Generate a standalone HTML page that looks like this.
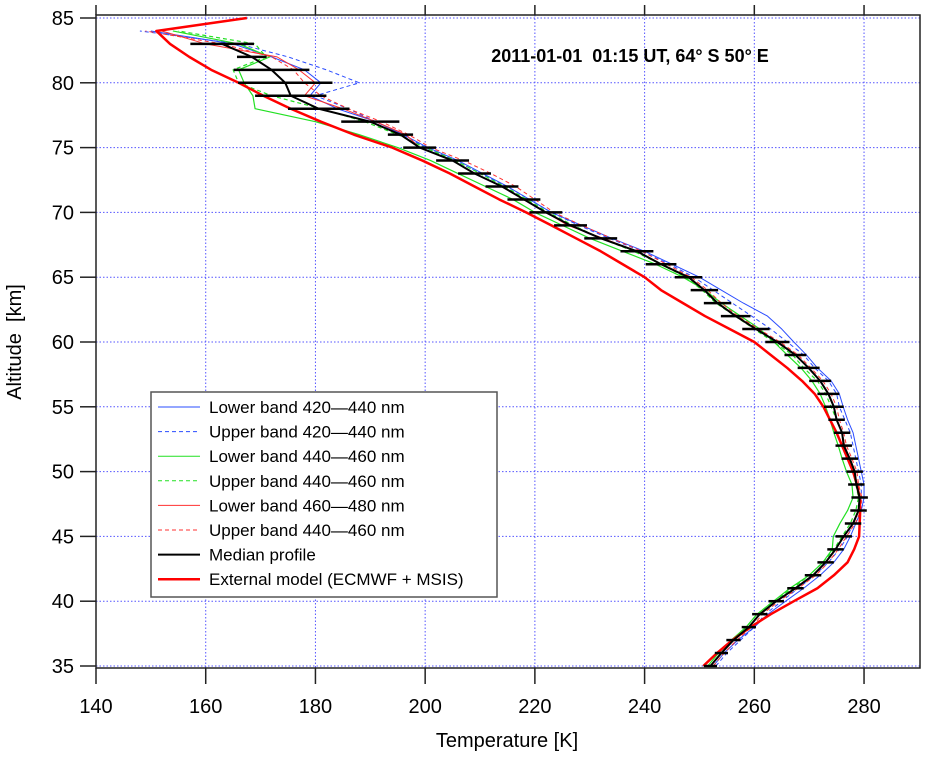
<!DOCTYPE html>
<html><head><meta charset="utf-8"><style>
body{margin:0;background:#fff;}
svg text{font-family:"Liberation Sans",sans-serif;}
</style></head><body>
<svg id="chart" width="936" height="752" xmlns="http://www.w3.org/2000/svg">
<g id="grid"></g>
<g id="series"></g>
<rect x="96" y="15" width="824" height="653" fill="none" stroke="#222" stroke-width="1.5"/>
<g id="axes"></g>
<text x="507" y="747" font-size="20" text-anchor="middle">Temperature [K]</text>
<text transform="translate(21,342) rotate(-90)" font-size="20" text-anchor="middle">Altitude&#160; [km]</text>
<text x="630" y="62" font-size="18" font-weight="bold" text-anchor="middle">2011-01-01&#160; 01:15 UT, 64° S 50° E</text>
<g>
<rect x="151" y="392" width="346" height="205" fill="#fff" stroke="#555" stroke-width="1.5"/>
<g id="legend-items"></g>
</g>
</svg>
<script>
const xTicks=[140,160,180,200,220,240,260,280];
const yTicks=[35,40,45,50,55,60,65,70,75,80,85];
const altMedian=[35,36,37,38,39,40,41,42,43,44,45,46,47,48,49,50,51,52,53,54,55,56,57,58,59,60,61,62,63,64,65,66,67,68,69,70,71,72,73,74,75,76,77,78,79,80,81,82,83];
const tMedian=[252,254,256.2,259,261,264,267.5,270.7,273,274.8,276.3,278,279,279.2,278.6,278.3,277.4,276.3,276,275,274.5,273.5,272,269.9,267.5,264.2,260.3,256.6,253.3,250.9,248,243,238.6,232,226.5,222,218,214,209,205,199,195.5,190,180.6,175.5,174.5,172,168.4,163];
const errMedian=[1.2,1.2,1.3,1.3,1.4,1.4,1.5,1.5,1.5,1.5,1.5,1.5,1.5,1.5,1.5,1.5,1.5,1.5,1.5,1.5,1.8,2,2,2,2,2.2,2.5,2.7,2.5,2.5,2.5,2.8,3,3,3,3,3,3,3,3,3,2.3,5.3,5.6,6.5,8.6,6.9,2.7,5.8];
const altBands=[35,36,37,38,39,40,41,42,43,44,45,46,47,48,49,50,51,52,53,54,55,56,57,58,59,60,61,62,63,64,65,66,67,68,69,70,71,72,73,74,75,76,77,78,79,80,81,82,83,84];
const tBlueLow=[252.5,254.5,257,260,262.5,265.7,269,272,274.5,276.3,277.5,278.5,279.5,280,280,279.5,279,278.5,278,277,276.2,275.5,274,271.5,269.5,267.2,265,262.4,258,254,250,245,240,234,228.5,223,219,215,210.5,206,200.5,196,191,184,179,181,178,172,165,150];
const tBlueUp=[253,255,257.5,260,262,265,268,271,273.5,275.5,277,278,279,279.5,279.5,279,278.5,278,277.5,276.5,275.5,275,273.5,271,269,266,263,259.5,256,252.5,249,244.5,239.5,233.5,228,223,219,215,210,205.5,200,196,191,186,180,188,182,175,166,148];
const tGreenLow=[251.5,253.5,255.8,258.5,260.5,263.5,266.5,270,272.5,274.2,274.4,275.6,277,278,277.8,276.8,276,275.3,274.5,273.8,273,272,270.5,268.5,266,263.6,261,257.5,254,251,247,242,236,230,225,220,216,211,206,201,195,188,180,169,168.6,167,166,171.7,166,154];
const tGreenUp=[252,254,256,258.5,260.5,263.5,267,270,272.5,274.5,276,277.5,278.5,279,278.5,278,277,276.5,276,275,274,273,271.5,269,267,263.5,260,256.5,253,250.5,247.5,243,238,232,227,222.5,218.5,214.5,210,205.5,200,195,189,181,172,166,165,171,169,155];
const tRedLow=[252,254,256.2,259,261,264,267.5,270.7,273,274.8,276.3,278,279,279.2,278.6,278.3,277.4,276.5,276,275,274.5,273.5,272,269.9,267.5,264.2,260.3,256.6,253.3,250.9,248,243,238.6,232.5,226,222,218,214,209,205,199,196.5,191,185,178,180,177,173,160,152];
const tRedUp=[252.5,254.5,256.8,259.5,261.5,264.5,268,271.2,273.5,275.3,276.8,278.4,279.4,279.6,279,278.7,277.8,276.8,276.3,275.5,275,274,272.5,270.3,268,264.7,260.8,257,254,251.5,248.5,244,239.5,234,228.5,223.5,220,216.5,212,207,201,197,192,186,181,178,176,172,163,149];
const altModel=[35,36,37,38,39,40,41,42,43,44,45,46,47,48,49,50,51,52,53,54,55,56,57,58,59,60,61,62,63,64,65,66,67,68,69,70,71,72,73,74,75,76,77,78,79,80,81,82,83,84,85];
const tModel=[250.7,253.2,256,259.3,263,267.2,271.5,274.5,277,278.2,279.1,279.2,279.3,279.2,278.7,278,277,276,275,273.8,272.6,271,268.7,266,263,260,255.5,251,247,243,240,236,232,227.5,223,218.4,213.5,209,204.5,199.5,194,187,181,175.5,170.5,166,161,157,153.5,151,167.5];

const NS='http://www.w3.org/2000/svg';
const X=t=>96+(t-140)*5.486;
const Y=a=>666-(a-35)*12.96;
function mk(tag,attrs,parent){const e=document.createElementNS(NS,tag);for(const k in attrs)e.setAttribute(k,attrs[k]);parent.appendChild(e);return e;}
const grid=document.getElementById('grid'),axes=document.getElementById('axes'),ser=document.getElementById('series');
xTicks.forEach(t=>{
  const g=mk('line',{x1:X(t),x2:X(t),y1:15,y2:668,stroke:'#55f','stroke-width':1,'stroke-dasharray':'1.5,2'},grid);
  
  
  mk('line',{x1:X(t),x2:X(t),y1:668,y2:684,stroke:'#222','stroke-width':1.5},axes);
  mk('line',{x1:X(t),x2:X(t),y1:15,y2:5,stroke:'#222','stroke-width':1.5},axes);
  const l=mk('text',{x:X(t),y:713,'font-size':20,'text-anchor':'middle'},axes);l.textContent=t;
  
  
});
yTicks.forEach(a=>{
  const g=mk('line',{x1:96,x2:920,y1:Y(a),y2:Y(a),stroke:'#55f','stroke-width':1,'stroke-dasharray':'1.5,2'},grid);
  
  
  mk('line',{x1:80,x2:96,y1:Y(a),y2:Y(a),stroke:'#222','stroke-width':1.5},axes);
  const l=mk('text',{x:74,y:Y(a)+7,'font-size':20,'text-anchor':'end'},axes);l.textContent=a;
  
  
});
function line(alts,ts,color,w,dash,name){
  const p=mk('polyline',{points:ts.map((t,i)=>X(t)+','+Y(alts[i])).join(' '),fill:'none',stroke:color,'stroke-width':w,'stroke-linejoin':'round'},ser);
  if(dash)p.setAttribute('stroke-dasharray',dash);
  
  
}
line(altBands,tBlueLow,'#2a4cff',1,null,'lower-band-420-440-line');
line(altBands,tBlueUp,'#2a4cff',1,'4,3','upper-band-420-440-line');
line(altBands,tGreenLow,'#22e022',1.2,null,'lower-band-440-460-line');
line(altBands,tGreenUp,'#22e022',1.2,'4,3','upper-band-440-460-line');
line(altBands,tRedLow,'#ff3030',1,null,'lower-band-460-480-line');
line(altBands,tRedUp,'#ff3030',1,'4,3','upper-band-440-460-red-line');
line(altModel,tModel,'#ff0000',2.5,null,'external-model-line');
line(altMedian,tMedian,'#000',2,null,'median-profile-line');
altMedian.forEach((a,i)=>{
  const e=mk('line',{x1:X(tMedian[i]-errMedian[i]),x2:X(tMedian[i]+errMedian[i]),y1:Y(a),y2:Y(a),stroke:'#000','stroke-width':2.5},ser);
  
  
});
const legNames=['Lower band 420\u2014440 nm','Upper band 420\u2014440 nm','Lower band 440\u2014460 nm','Upper band 440\u2014460 nm','Lower band 460\u2014480 nm','Upper band 440\u2014460 nm','Median profile','External model (ECMWF + MSIS)'];
const legColors=['#2a4cff','#2a4cff','#22e022','#22e022','#ff3030','#ff3030','#000','#ff0000'];
const legDash=[null,'4,3',null,'4,3',null,'4,3',null,null];
const legW=[1,1,1,1,1,1,2,2.5];
const li=document.getElementById('legend-items');
legNames.forEach((n,i)=>{
  const y=407+i*24.6;
  const s=mk('line',{x1:158,x2:200,y1:y,y2:y,stroke:legColors[i],'stroke-width':legW[i]},li);
  if(legDash[i])s.setAttribute('stroke-dasharray',legDash[i]);
  
  
  const t=mk('text',{x:209,y:y+6,'font-size':17},li);t.textContent=n;
  
  
});
</script>
</body></html>
